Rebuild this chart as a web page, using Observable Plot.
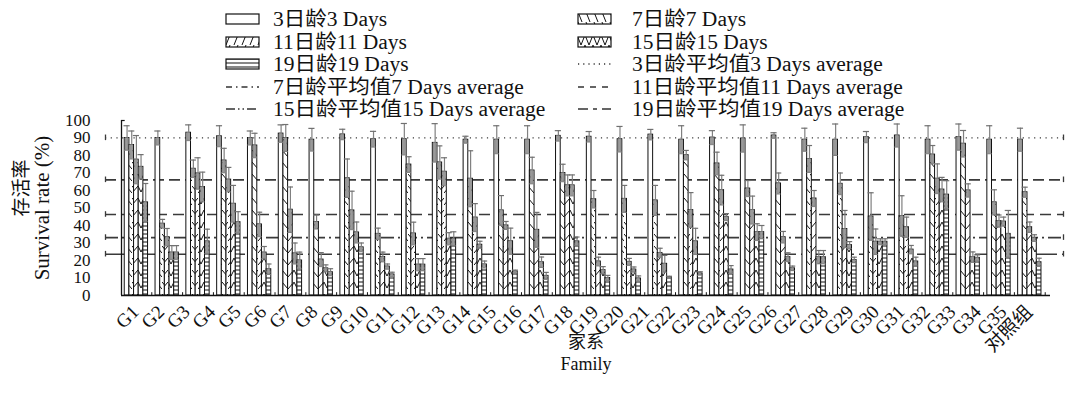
<!DOCTYPE html>
<html><head><meta charset="utf-8">
<script src="https://cdn.jsdelivr.net/npm/d3@7"></script>
<script src="https://cdn.jsdelivr.net/npm/@observablehq/plot@0.6"></script>
<style>
body{margin:0;background:#fff;}
#wrap{position:relative;width:1071px;height:402px;font-family:"Liberation Serif","Noto Sans CJK SC",serif;color:#111;}
#legend{position:absolute;left:0;top:0;width:1071px;height:118px;z-index:2;}
.li{position:absolute;height:20px;display:flex;align-items:center;white-space:nowrap;font-size:20px;line-height:20px;}
.li.t{transform:scaleX(1.075);transform-origin:0 50%;}
.li svg{display:block;}
#chart{position:absolute;left:0;top:112px;z-index:1;}
</style></head><body>
<svg width="0" height="0" style="position:absolute">
<defs>
<pattern id="pat0" patternUnits="userSpaceOnUse" width="6" height="6"><rect width="6" height="6" fill="#fff"/></pattern>
<pattern id="pat1" patternUnits="userSpaceOnUse" width="6" height="12"><rect width="6" height="12" fill="#fff"/><path d="M0,2 L6,9" stroke="#111" stroke-width="1"/></pattern>
<pattern id="pat2" patternUnits="userSpaceOnUse" width="6" height="12"><rect width="6" height="12" fill="#fff"/><path d="M0,9 L6,2" stroke="#111" stroke-width="1"/></pattern>
<pattern id="pat3" patternUnits="userSpaceOnUse" width="6" height="12"><rect width="6" height="12" fill="#fff"/><path d="M0,2 L3,8 L6,2" fill="none" stroke="#111" stroke-width="1"/></pattern>
<pattern id="pat4" patternUnits="userSpaceOnUse" width="6" height="4"><rect width="6" height="4" fill="#fff"/><path d="M0,2 H6" stroke="#111" stroke-width="1"/></pattern>
<pattern id="lpat1" patternUnits="userSpaceOnUse" width="8" height="10"><rect width="8" height="10" fill="#fff"/><path d="M1,0 L5,10" stroke="#111" stroke-width="1"/></pattern>
<pattern id="lpat2" patternUnits="userSpaceOnUse" width="8" height="10"><rect width="8" height="10" fill="#fff"/><path d="M5,0 L1,10" stroke="#111" stroke-width="1"/></pattern>
<pattern id="lpat3" patternUnits="userSpaceOnUse" width="8" height="10"><rect width="8" height="10" fill="#fff"/><path d="M0,0 L4,10 L8,0" fill="none" stroke="#111" stroke-width="1"/></pattern>
</defs>
</svg>
<div id="wrap"><div id="legend"></div><div id="chart"></div></div>
<script>
// ---- data ----
const families = ["G1","G2","G3","G4","G5","G6","G7","G8","G9","G10","G11","G12","G13","G14","G15","G16","G17","G18","G19","G20","G21","G22","G23","G24","G25","G26","G27","G28","G29","G30","G31","G32","G33","G34","G35","对照组"];
const seriesNames = ["3日龄3 Days","7日龄7 Days","11日龄11 Days","15日龄15 Days","19日龄19 Days"];
const averageNames = ["3日龄平均值3 Days average","7日龄平均值7 Days average","11日龄平均值11 Days average","15日龄平均值15 Days average","19日龄平均值19 Days average"];
const yTicks = [0,10,20,30,40,50,60,70,80,90,100];

const survival3  = [90,90,93,91,90,92.5,89,92,89.3,89.3,87.2,89,89,89,91.2,90.7,89.3,91.9,89,90.2,89.7,91.4,89,89,90.5,91.4,89,90.5,89,89];
const survival7  = [86,41,72.4,77.1,85.7,90,42,67,35.2,74.8,76,66.7,48.6,71.4,70,55,55.2,54.3,80.2,75.4,61.1,64,78,63.8,45.1,45.4,80.5,86.7,53.2,59];
const survival11 = [77.6,33.3,69.7,66.2,40.6,49,20.5,48.6,22,35.4,70.7,44.5,40,37.5,62.9,19.4,19.2,24.3,48.8,60.2,48.8,33.3,55.4,38,30.7,39,66.7,60,42.5,39];
const survival15 = [73.5,24.5,62,52.4,24.5,24,15.5,36,16.5,17.6,32.4,29,31,19,62.9,14.5,14.8,18.1,30.9,44.8,36.2,21.9,21.9,28.8,30.7,26.2,60.5,21.9,42.2,32.8];
const survival19 = [53.2,24.5,30.9,41.9,15,20,13.3,27.5,12,17.6,32.4,17.7,13.7,11.2,30.9,10,9.7,10.5,12.6,14.8,36.2,15.5,21.9,20.3,30.7,19.4,57.6,21.5,35.2,19];

const error3  = [7,4,4.5,6,4,5,6.5,3,4.5,9,11,2,8,8,3,3,7.3,3,8,4,7.8,1.6,6.6,9,3.2,6.6,8,7.5,8,6.6];
const error7  = [8,2.5,5,7,7,7.7,4,11,3.3,4.5,9.5,16,8.5,7.6,5,5,7.7,8.6,2.7,6.5,4.6,6,7.7,6.2,13.6,11.6,5.2,7.6,7.2,2.9];
const error11 = [13.8,5,9,7,7,13,4,11,2.8,6.5,8,8,2.3,10,6,2.5,2,2.7,10,8.5,8,3.3,4.6,10.6,7.3,5.8,8.5,3.8,3.5,3];
const error15 = [7,4,8.5,10.5,3.5,6,2,6,1.5,3.5,3.5,2,7.5,3,6,2,1.5,4.8,7.5,2,4.8,2.5,3.8,2,1.7,2.4,7,3,2.6,1.9];
const error19 = [10.8,4,7,6,3,4.8,2,2.5,1.3,3.5,4,2,0.8,2,2.5,1.5,1.5,0.5,1,2.3,3.8,1.3,3.8,1.6,1.7,2.5,8,1.7,13.4,2.3];

const averages = [90.1, 66.1, 46.3, 33.1, 23.6];

// ---- layout helpers ----
const values = [survival3, survival7, survival11, survival15, survival19];
const errors = [error3, error7, error11, error15, error19];
const fills = ["url(#pat0)","url(#pat1)","url(#pat2)","url(#pat3)","url(#pat4)"];
const legendFills = ["url(#pat0)","url(#lpat1)","url(#lpat2)","url(#lpat3)","url(#pat4)"];
const dashes = ["1.2,4.5","11,5","11,6","13,4,2,4","24,5"];
const legendDashes = ["1.2,4","6,4,1.5,4","6,6","9,3,1.5,3,1.5,3","10,5,4,5"];
const nGroups = survival3.length;
const BAR = 0.1513;
const xDomain = [-0.105, 30.05];

const rowsBySeries = values.map((vals, s) => vals.map((v, g) => ({
  s, g, v, e: errors[s][g],
  x1: g + s * BAR, x2: g + (s + 1) * BAR, xc: g + (s + 0.5) * BAR
})));
const allRows = rowsBySeries.flat();
const labelStart = 2.5 * BAR;
const labelStep = (nGroups - 1) / (families.length - 1);
const tickPos = d3.range(nGroups).map(g => g + 5 * BAR + (1 - 5 * BAR) / 2);
const avgRows = averages.map((a, i) => ({a, i}));

const marks = [];
// reference (average) lines
avgRows.forEach(r => {
  marks.push(Plot.ruleY([r], {y: "a", stroke: "#3a3a3a", strokeWidth: r.i === 0 ? 1.3 : 1.6, strokeDasharray: dashes[r.i], insetLeft: -16, insetRight: -13}));
});
marks.push(Plot.ruleX(avgRows, {x: () => xDomain[0], y1: d => d.a - 1.6, y2: d => d.a + 1.6, dx: -16, stroke: "#3a3a3a", strokeWidth: 1.3}));
marks.push(Plot.ruleX(avgRows, {x: () => xDomain[1], y1: d => d.a - 1.6, y2: d => d.a + 1.6, dx: 13, stroke: "#3a3a3a", strokeWidth: 1.3}));
// bars
rowsBySeries.forEach((rows, s) => {
  marks.push(Plot.rectY(rows, {x1: "x1", x2: "x2", y1: 0, y2: "v", fill: fills[s], stroke: "#111", strokeWidth: 1}));
});
// error bars
marks.push(Plot.rectY(allRows, {x1: d => d.xc - 0.045, x2: d => d.xc + 0.045, y1: d => d.v - d.e, y2: "v", fill: "#9a9a9a", stroke: "#7a7a7a", strokeWidth: 0.6}));
marks.push(Plot.ruleX(allRows, {x: "xc", y1: "v", y2: d => d.v + d.e, stroke: "#808080", strokeWidth: 1.2}));
marks.push(Plot.ruleY(allRows, {y: d => d.v + d.e, x1: d => d.xc - 0.1, x2: d => d.xc + 0.1, stroke: "#707070", strokeWidth: 1.2}));
marks.push(Plot.ruleY(allRows, {y: d => d.v - d.e, x1: d => d.xc - 0.08, x2: d => d.xc + 0.08, stroke: "#808080", strokeWidth: 1}));
// axes
marks.push(Plot.ruleY([0], {stroke: "#111", strokeWidth: 1.3}));
marks.push(Plot.ruleX([xDomain[0]], {y1: 0, y2: 100, stroke: "#111", strokeWidth: 1.3}));
marks.push(Plot.ruleY([100], {x1: xDomain[0], x2: xDomain[0] + 0.12, stroke: "#111", strokeWidth: 1.2}));
marks.push(Plot.ruleX(tickPos, {x: d => d, y1: 0, y2: 1.6, stroke: "#111", strokeWidth: 1}));
marks.push(Plot.axisY({ticks: yTicks, tickSize: 0, tickPadding: 31, fontSize: 17, label: null}));
// x labels (category names)
marks.push(Plot.text(families, {x: (d, i) => labelStart + i * labelStep, frameAnchor: "bottom", text: d => d, rotate: -45, textAnchor: "end", lineAnchor: "top", dx: -6, dy: 8, fontSize: 19}));
// axis titles
marks.push(Plot.text(["家系"], {frameAnchor: "bottom", text: d => d, dy: 52, fontSize: 18}));
marks.push(Plot.text(["Family"], {frameAnchor: "bottom", text: d => d, dy: 74, fontSize: 18}));
marks.push(Plot.text(["存活率"], {frameAnchor: "left", text: d => d, rotate: -90, textAnchor: "middle", dx: -100, dy: -20, fontSize: 19}));
marks.push(Plot.text(["Survival rate (%)"], {frameAnchor: "left", text: d => d, rotate: -90, textAnchor: "middle", dx: -79, fontSize: 21}));

const chart = Plot.plot({
  width: 1071, height: 290,
  marginTop: 8, marginBottom: 107, marginLeft: 121, marginRight: 21,
  x: {type: "linear", domain: xDomain, axis: null},
  y: {domain: [0, 100]},
  style: {fontFamily: '"Liberation Serif","Noto Sans CJK SC",serif', background: "transparent", color: "#111", overflow: "visible"},
  marks
});
document.getElementById("chart").appendChild(chart);

// ---- legend ----
const legend = document.getElementById("legend");
const legendItems = [];
seriesNames.forEach((n, i) => legendItems.push({type: "bar", i, n}));
averageNames.forEach((n, i) => legendItems.push({type: "line", i, n}));
const colSwatch = [225, 577], colText = [273, 632], rowY = [19, 41.5, 64, 86.5, 108.5];
legendItems.forEach((it, k) => {
  const col = k % 2, row = Math.floor(k / 2);
  const sw = document.createElementNS("http://www.w3.org/2000/svg", "svg");
  sw.setAttribute("width", 36); sw.setAttribute("height", 14);
  if (it.type === "bar") {
    sw.innerHTML = `<rect x="1" y="2" width="33" height="10" fill="${legendFills[it.i]}" stroke="#111" stroke-width="1.2"/>`;
  } else {
    sw.innerHTML = `<line x1="1" x2="34" y1="7" y2="7" stroke="#333" stroke-width="1.5" stroke-dasharray="${legendDashes[it.i]}"/>`;
  }
  const d1 = document.createElement("div");
  d1.className = "li"; d1.style.left = colSwatch[col] + "px"; d1.style.top = (rowY[row] - 10) + "px";
  d1.appendChild(sw);
  legend.appendChild(d1);
  const d2 = document.createElement("div");
  d2.className = "li t"; d2.style.left = colText[col] + "px"; d2.style.top = (rowY[row] - 10) + "px";
  d2.textContent = it.n;
  legend.appendChild(d2);
});
</script>
</body></html>
